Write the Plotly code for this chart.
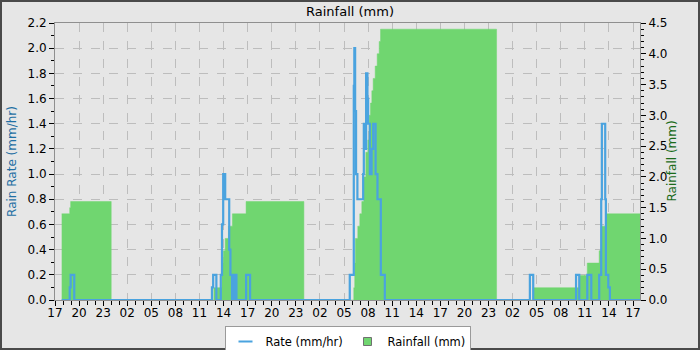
import plotly.graph_objects as go

# ---------------- data ----------------
rate_times = [
    "2024-05-10 17:50", "2024-05-10 18:50", "2024-05-10 18:57", "2024-05-10 19:24",
    "2024-05-11 12:33", "2024-05-11 12:42", "2024-05-11 13:06", "2024-05-11 13:39",
    "2024-05-11 13:48", "2024-05-11 13:57", "2024-05-11 14:12", "2024-05-11 14:42",
    "2024-05-11 14:51", "2024-05-11 15:03", "2024-05-11 15:06", "2024-05-11 15:18",
    "2024-05-11 15:21", "2024-05-11 15:36", "2024-05-11 16:48", "2024-05-11 17:18",
    "2024-05-12 05:43", "2024-05-12 06:13", "2024-05-12 06:17", "2024-05-12 06:23",
    "2024-05-12 06:30", "2024-05-12 06:40", "2024-05-12 07:23", "2024-05-12 07:28",
    "2024-05-12 07:35", "2024-05-12 07:45", "2024-05-12 07:55", "2024-05-12 08:00",
    "2024-05-12 08:13", "2024-05-12 08:26", "2024-05-12 08:38", "2024-05-12 08:56",
    "2024-05-12 09:10", "2024-05-12 09:35", "2024-05-12 10:05",
    "2024-05-13 04:09", "2024-05-13 04:34", "2024-05-13 09:54", "2024-05-13 10:18",
    "2024-05-13 11:18", "2024-05-13 11:48", "2024-05-13 12:47", "2024-05-13 13:02",
    "2024-05-13 13:07", "2024-05-13 13:32", "2024-05-13 13:37", "2024-05-13 13:55",
    "2024-05-13 14:07", "2024-05-13 17:52",
]
rate_values = [
    0.0, 0.1, 0.2, 0.0,
    0.1, 0.2, 0.0, 0.2,
    0.6, 1.0, 0.8, 0.4,
    0.2, 0.0, 0.2, 0.0,
    0.2, 0.0, 0.2, 0.0,
    0.2, 1.7, 2.0, 1.5,
    1.0, 0.8, 1.0, 1.4,
    1.2, 1.8, 1.6, 1.4,
    1.0, 1.2, 1.4, 1.0,
    0.8, 0.2, 0.0,
    0.2, 0.0, 0.2, 0.0,
    0.2, 0.0, 0.2, 0.8,
    1.4, 0.8, 0.2, 0.1,
    0.0, 0.0,
]

rain_times = [
    "2024-05-10 17:50", "2024-05-10 18:50", "2024-05-10 18:57", "2024-05-11 00:00",
    "2024-05-11 12:47", "2024-05-11 13:48", "2024-05-11 13:54", "2024-05-11 13:58",
    "2024-05-11 14:12", "2024-05-11 14:36", "2024-05-11 15:06", "2024-05-11 16:48",
    "2024-05-12 00:00",
    "2024-05-12 06:13", "2024-05-12 06:20", "2024-05-12 06:25", "2024-05-12 06:43",
    "2024-05-12 06:58", "2024-05-12 07:13", "2024-05-12 07:28", "2024-05-12 07:43",
    "2024-05-12 07:58", "2024-05-12 08:08", "2024-05-12 08:18", "2024-05-12 08:28",
    "2024-05-12 08:38", "2024-05-12 08:53", "2024-05-12 09:08", "2024-05-12 09:23",
    "2024-05-12 09:33", "2024-05-13 00:00",
    "2024-05-13 04:34", "2024-05-13 10:18", "2024-05-13 11:18", "2024-05-13 12:47",
    "2024-05-13 13:05", "2024-05-13 13:37", "2024-05-13 17:52",
]
rain_values = [
    1.4, 1.5, 1.6, 0.0,
    0.2, 0.4, 0.6, 0.8,
    1.0, 1.2, 1.4, 1.6,
    0.0,
    0.2, 0.6, 1.0, 1.2,
    1.4, 1.6, 2.0, 2.4,
    2.6, 3.0, 3.2, 3.4,
    3.6, 3.8, 4.0, 4.2,
    4.4, 0.0,
    0.2, 0.4, 0.6, 0.8,
    1.2, 1.4, 1.4,
]

x_start = "2024-05-10 17:00"
x_end = "2024-05-13 17:52"

# ---------------- style ----------------
BG = "#e6e6e6"
GRID = "#bdbdbd"
AXLINE = "#8f8f8f"
BLUE = "#4aa3df"
GREEN = "#70d670"
FONT = "DejaVu Sans"

fig = go.Figure()

# invisible helper so that the base (grid / left-label) axis exists
fig.add_trace(go.Scatter(
    x=[x_start], y=[0], yaxis="y", mode="markers",
    marker=dict(opacity=0, size=1), showlegend=False, hoverinfo="skip",
))
fig.add_trace(go.Scatter(
    x=rain_times, y=rain_values, name="Rainfall (mm)", yaxis="y2",
    mode="lines", line=dict(width=0.5, shape="hv", color=GREEN),
    fill="tozeroy", fillcolor=GREEN, showlegend=False,
))
fig.add_trace(go.Scatter(
    x=rate_times, y=rate_values, name="Rate (mm/hr)", yaxis="y3",
    mode="lines", line=dict(width=2.2, shape="hv", color=BLUE), showlegend=False,
))
# legend entries (compact symbols as in the reference)
fig.add_trace(go.Scatter(
    x=[None], y=[None], yaxis="y3", name="Rate (mm/hr)", mode="markers",
    marker=dict(symbol="line-ew-open", size=10, color=BLUE, line=dict(color=BLUE, width=2)),
    showlegend=True,
))
fig.add_trace(go.Scatter(
    x=[None], y=[None], yaxis="y2", name="Rainfall (mm)", mode="markers",
    marker=dict(symbol="square", size=8, color=GREEN, line=dict(color="#707070", width=1)),
    showlegend=True,
))

W, H = 700, 350
ml, mr, mt, mb = 55, 60, 23, 50
pw, ph = W - ml - mr, H - mt - mb

fig.update_layout(
    width=W, height=H,
    margin=dict(l=ml, r=mr, t=mt, b=mb, pad=0, autoexpand=False),
    paper_bgcolor=BG, plot_bgcolor=BG,
    font=dict(family=FONT, size=11, color="#000000"),
    title=dict(text="Rainfall (mm)", x=0.5, xanchor="center", y=1 - 11 / H,
               yanchor="middle", font=dict(family=FONT, size=13, color="#000000")),
    showlegend=True,
    legend=dict(orientation="h", x=0.5, xanchor="center", y=-26 / ph, yanchor="top",
                bgcolor="#ffffff", bordercolor="#9a9a9a", borderwidth=1,
                font=dict(family=FONT, size=11.5, color="#000000"),
                itemwidth=30, traceorder="normal",
                entrywidth=77, entrywidthmode="pixels"),
    xaxis=dict(
        type="date", range=[x_start, x_end],
        tick0=x_start, dtick=3 * 3600 * 1000, tickformat="%H",
        showgrid=True, gridcolor=GRID, griddash="dash", gridwidth=1,
        showline=True, linecolor=AXLINE, linewidth=1, mirror=True,
        ticks="outside", ticklen=5, tickcolor="#000000", tickwidth=1,
        minor=dict(dtick=3600 * 1000, ticks="outside", ticklen=4,
                   tickcolor="#000000", showgrid=False),
        zeroline=False, tickfont=dict(size=12), ticklabelstandoff=-3,
    ),
    yaxis=dict(
        range=[0, 2.2], dtick=0.2, tick0=0, tickformat=".1f",
        showgrid=True, gridcolor=GRID, griddash="dash", gridwidth=1,
        showline=True, linecolor=AXLINE, linewidth=1,
        ticks="outside", ticklen=5, tickcolor="#000000",
        minor=dict(dtick=0.1, ticks="outside", ticklen=3,
                   tickcolor="#000000", showgrid=False),
        zeroline=False, tickfont=dict(size=12),
        title=dict(text="Rain Rate (mm/hr)", font=dict(color="#1f6fa3", size=12), standoff=8),
    ),
    yaxis2=dict(
        range=[0, 4.5], dtick=0.5, tick0=0, tickformat=".1f",
        overlaying="y", side="right", showgrid=False,
        showline=True, linecolor=AXLINE, linewidth=1,
        ticks="outside", ticklen=5, tickcolor="#000000",
        minor=dict(dtick=0.1, ticks="outside", ticklen=3,
                   tickcolor="#000000", showgrid=False),
        zeroline=False, tickfont=dict(size=12),
    ),
    yaxis3=dict(range=[0, 2.2], overlaying="y", visible=False, showgrid=False),
)

# right axis title placed close to the tick labels, as in the reference
fig.add_annotation(text="Rainfall (mm)", xref="paper", yref="paper",
                   x=(671 - ml) / pw, y=0.5, xanchor="center", yanchor="middle",
                   textangle=-90, showarrow=False,
                   font=dict(family=FONT, size=12, color="#1a6b1a"))

# outer image frame
fig.add_shape(type="rect", xref="paper", yref="paper",
              x0=-ml / pw, x1=1 + mr / pw, y0=-mb / ph, y1=1 + mt / ph,
              line=dict(color="#4a4a4a", width=4), fillcolor="rgba(0,0,0,0)", layer="above")

fig.write_html("out.html")
